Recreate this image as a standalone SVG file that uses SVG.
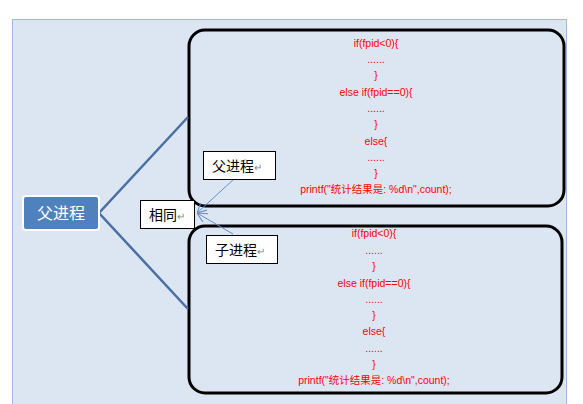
<svg xmlns="http://www.w3.org/2000/svg" width="583" height="404" viewBox="0 0 583 404">
<defs>
<style>
.code{font-family:"Liberation Sans","Noto Sans CJK SC",sans-serif;font-size:10.5px;fill:#ff0000;text-anchor:middle}
.lbl{font-family:"Noto Sans CJK SC","Liberation Sans",sans-serif;font-size:14px;fill:#000}
.ret{fill:#888;font-size:10px}
.box{fill:#dce6f2;stroke:#000;stroke-width:3}
.tag{fill:#fff;stroke:#000;stroke-width:1}
.branch{stroke:#4a6fa5;stroke-width:2.5;fill:none}
.thin{stroke:#5b8fd0;stroke-width:1;fill:none;marker-end:url(#arr)}
</style>
<marker id="arr" viewBox="0 0 10 10" refX="10" refY="5" markerWidth="10" markerHeight="10" orient="auto" markerUnits="userSpaceOnUse">
<path d="M0,0 L10,5 L0,10" fill="none" stroke="#5b8fd0" stroke-width="1"/>
</marker>
</defs>
<rect x="0" y="0" width="583" height="404" fill="#fff"/>
<rect x="12.5" y="19.5" width="554" height="400" fill="#dce6f2" stroke="#9db8e3" stroke-width="1"/>
<g id="top-box">
<rect class="box" x="189" y="30" width="375" height="176" rx="16"/>
<text class="code" x="376" y="47">if(fpid&lt;0){</text>
<text class="code" x="376" y="63">......</text>
<text class="code" x="376" y="79">}</text>
<text class="code" x="376" y="96">else if(fpid==0){</text>
<text class="code" x="376" y="112">......</text>
<text class="code" x="376" y="128">}</text>
<text class="code" x="376" y="145">else{</text>
<text class="code" x="376" y="161">......</text>
<text class="code" x="376" y="177">}</text>
<text class="code" x="376" y="193">printf("统计结果是: %d\n",count);</text>
</g>
<g id="bottom-box">
<rect class="box" x="189" y="226" width="373" height="167" rx="16"/>
<text class="code" x="374" y="237">if(fpid&lt;0){</text>
<text class="code" x="374" y="254">......</text>
<text class="code" x="374" y="270">}</text>
<text class="code" x="374" y="287">else if(fpid==0){</text>
<text class="code" x="374" y="303">......</text>
<text class="code" x="374" y="319">}</text>
<text class="code" x="374" y="335">else{</text>
<text class="code" x="374" y="352">......</text>
<text class="code" x="374" y="368">}</text>
<text class="code" x="374" y="384">printf("统计结果是: %d\n",count);</text>
</g>
<g id="connectors">
<path class="branch" d="M188,117 L99,213 L188,309"/>
<path class="thin" d="M234,179 L197,213"/>
<path class="thin" d="M233,234 L197,213"/>
</g>
<g id="parent">
<rect x="23" y="196" width="76" height="34" rx="3" fill="#4f81bd" stroke="#fff" stroke-width="2"/>
<text x="61" y="219" font-family="Noto Sans CJK SC,sans-serif" font-size="16" fill="#fff" text-anchor="middle">父进程</text>
</g>
<g id="same">
<rect class="tag" x="140.5" y="200.5" width="54" height="28"/>
<text class="lbl" x="149" y="220">相同<tspan class="ret">↵</tspan></text>
</g>
<g id="label-parent">
<rect class="tag" x="203.5" y="151.5" width="72" height="28"/>
<text class="lbl" x="212" y="171">父进程<tspan class="ret">↵</tspan></text>
</g>
<g id="label-child">
<rect class="tag" x="206.5" y="235.5" width="71" height="28"/>
<text class="lbl" x="215" y="255">子进程<tspan class="ret">↵</tspan></text>
</g>
</svg>
